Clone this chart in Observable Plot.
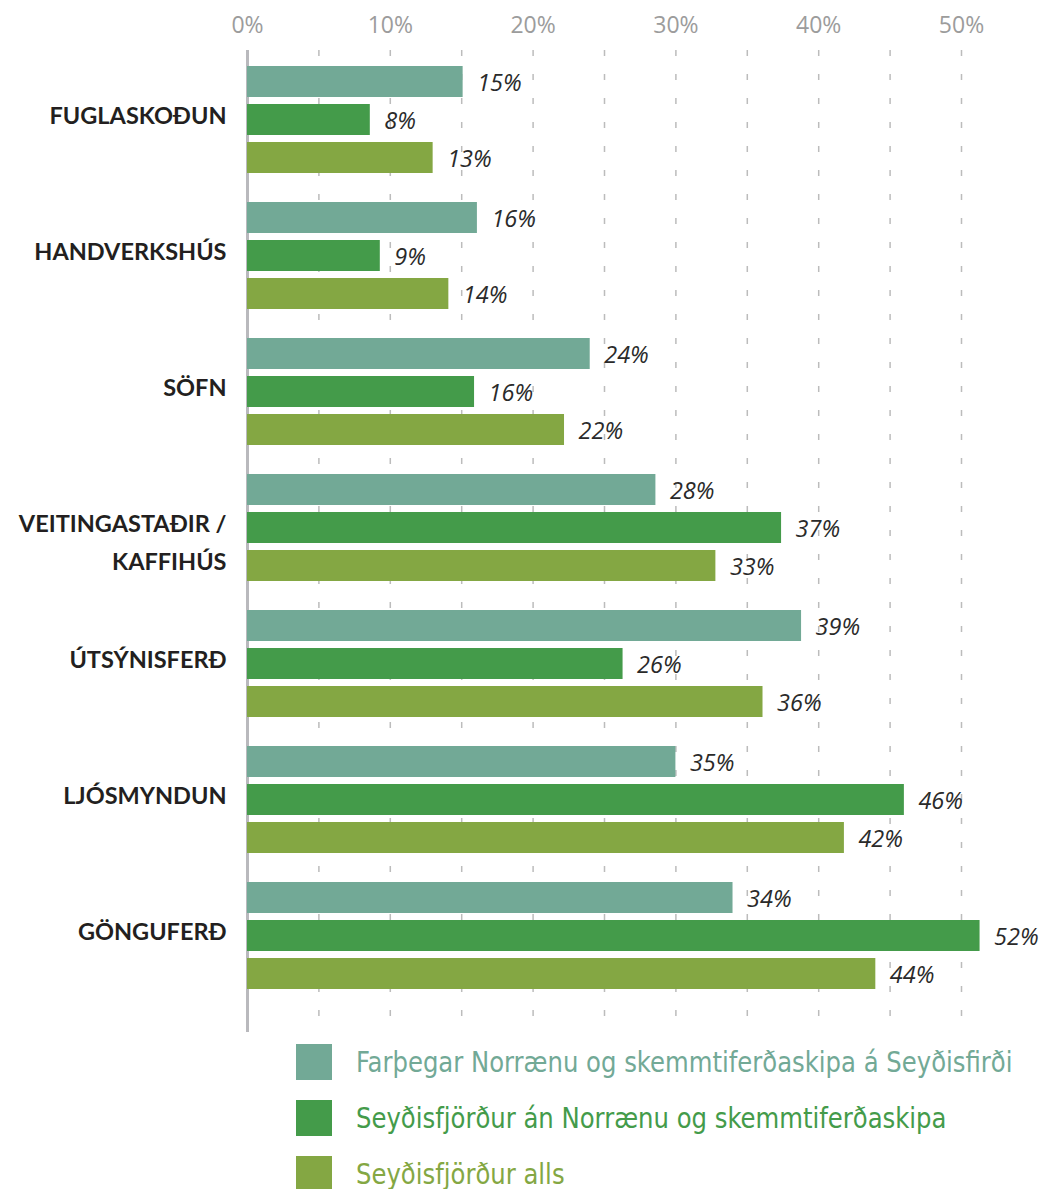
<!DOCTYPE html>
<html><head><meta charset="utf-8">
<script src="https://cdn.jsdelivr.net/npm/d3@7"></script>
<script src="https://cdn.jsdelivr.net/npm/@observablehq/plot@0.6"></script>
<style>
body{margin:0;background:#fff;}
#chart svg{display:block;}
#legend{padding-left:296px;margin-top:8px;}
.row{display:flex;align-items:center;height:36px;margin-bottom:20px;}
.sw{width:36px;height:36px;margin-right:24px;flex:none;}
.lab{font-family:"Liberation Sans Narrow","DejaVu Sans Condensed",sans-serif;font-size:29px;line-height:36px;white-space:nowrap;display:inline-block;transform:scaleX(0.933);transform-origin:left center;}
</style></head><body><div id="chart"></div><div id="legend"></div>
<script>
const categories = ["FUGLASKOÐUN","HANDVERKSHÚS","SÖFN","VEITINGASTAÐIR /\nKAFFIHÚS","ÚTSÝNISFERÐ","LJÓSMYNDUN","GÖNGUFERÐ"];
const seriesNames = ["Farþegar Norrænu og skemmtiferðaskipa á Seyðisfirði","Seyðisfjörður án Norrænu og skemmtiferðaskipa","Seyðisfjörður alls"];
const seriesColors = ["#72a996","#449b4a","#84a743"];
const ferryValues   = [15.1, 16.1, 24, 28.6, 38.8, 30, 34];
const ferryLabels   = [15, 16, 24, 28, 39, 35, 34];
const withoutValues = [8.6, 9.3, 15.9, 37.4, 26.3, 46, 51.3];
const withoutLabels = [8, 9, 16, 37, 26, 46, 52];
const totalValues   = [13, 14.1, 22.2, 32.8, 36.1, 41.8, 44];
const totalLabels   = [13, 14, 22, 33, 36, 42, 44];
const xTicks = [0, 10, 20, 30, 40, 50];
const gridTicks = [5, 10, 15, 20, 25, 30, 35, 40, 45, 50];

const seriesValues = [ferryValues, withoutValues, totalValues];
const seriesLabels = [ferryLabels, withoutLabels, totalLabels];
const rows = seriesValues.map((vals, k) => categories.map((c, j) => ({category: c, series: seriesNames[k], k, value: vals[j], label: seriesLabels[k][j]})));

const marks = [
  Plot.ruleX(gridTicks, {stroke: "#bcbcbc", strokeWidth: 1.5, strokeDasharray: "6,18"}),
  Plot.ruleX([0], {stroke: "#b9b9bd", strokeWidth: 3}),
  Plot.axisX(xTicks, {anchor: "top", tickSize: 0, tickPadding: 18, tickFormat: d => d + "%", fontSize: 23, fill: "#9c9c9c", fontFamily: "Open Sans", label: null})
];
rows.forEach((data, k) => {
  marks.push(Plot.barX(data, {x: "value", y: "category", fill: seriesColors[k], insetTop: k * 38, insetBottom: (2 - k) * 38}));
  marks.push(Plot.text(data, {x: "value", y: "category", text: d => d.label + "%", dx: 14, dy: (k - 1) * 38 + 1, textAnchor: "start", fontStyle: "italic", fontSize: 23.5, fill: "#2a2a2a", fontFamily: "Open Sans"}));
});
marks.push(Plot.text(categories, {x: () => 0, y: d => d, text: d => d, textAnchor: "end", dx: -21, dy: -23, lineAnchor: "top", lineHeight: 1.62, fontWeight: "bold", fontSize: 23.5, fill: "#231f20", fontFamily: "Lato"}));

const chart = Plot.plot({
  width: 1039,
  height: 1036,
  marginLeft: 247,
  marginRight: 78,
  marginTop: 50,
  marginBottom: 4,
  style: {background: "#fff", fontFamily: "Lato"},
  x: {domain: [0, 50], axis: null},
  y: {domain: categories, range: [66, 989], paddingInner: 29 / 136, paddingOuter: 0, axis: null},
  marks
});
document.getElementById("chart").appendChild(chart);

const legend = document.getElementById("legend");
seriesNames.forEach((name, k) => {
  const row = document.createElement("div");
  row.className = "row";
  const sw = document.createElement("div");
  sw.className = "sw";
  sw.style.background = seriesColors[k];
  const lab = document.createElement("div");
  lab.className = "lab";
  lab.style.color = seriesColors[k];
  lab.textContent = name;
  row.appendChild(sw);
  row.appendChild(lab);
  legend.appendChild(row);
});
</script></body></html>
